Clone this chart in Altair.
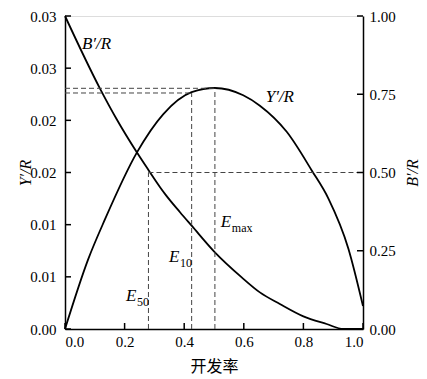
import json
import altair as alt
import pandas as pd

# ---- data ----
yr_x = [0.0, 0.078, 0.134, 0.241, 0.330, 0.425, 0.503, 0.598, 0.654, 0.744, 0.828, 0.884, 0.951, 1.0]
yr_v = [0.0, 0.0067, 0.0105, 0.0169, 0.0206, 0.0227, 0.0231, 0.0224, 0.0214, 0.0189, 0.0152, 0.0125, 0.0077, 0.0022]

br_x = [0.0, 0.117, 0.173, 0.241, 0.280, 0.319, 0.336, 0.386, 0.425, 0.503, 0.593, 0.654, 0.721, 0.800, 0.878, 0.934, 1.0]
br_v = [1.0, 0.769, 0.671, 0.5645, 0.508, 0.453, 0.431, 0.373, 0.330, 0.245, 0.165, 0.117, 0.080, 0.0405, 0.016, 0.0, 0.0]

# reference (dashed) lines, in left-axis units
e_names = ["Emax", "E10", "E50"]
e_x = [0.503, 0.425, 0.280]
e_top = [0.02307, 0.02262, 0.015]
# horizontal dashed segments: (x start, x end, y)
h_x1 = [0.0, 0.0, 0.280]
h_x2 = [0.503, 0.425, 1.0]
h_y = [0.02307, 0.02262, 0.015]

# annotation labels
lab_main = ["E", "E", "E"]
lab_sub = ["max", "10", "50"]
lab_x = [0.523, 0.349, 0.205]
lab_y = [0.00975, 0.00639, 0.00271]

curve_lab = ["B′/R", "Y′/R"]
curve_lab_x = [0.106, 0.721]
curve_lab_y = [0.0273, 0.0222]

x_ticks = [0.0, 0.2, 0.4, 0.6, 0.8, 1.0]
left_ticks = [0.0, 0.005, 0.01, 0.015, 0.02, 0.025, 0.03]
left_tick_labels = ["0.00", "0.01", "0.01", "0.02", "0.02", "0.03", "0.03"]
right_ticks = [0.0, 0.25, 0.5, 0.75, 1.0]

W, H = 298, 313
SERIF = "Liberation Serif"
CJK = "Noto Sans CJK SC"

xscale = alt.Scale(domain=[0, 1], nice=False, zero=False)
lscale = alt.Scale(domain=[0, 0.03], nice=False, zero=False)
rscale = alt.Scale(domain=[0, 1], nice=False, zero=False)

yr_df = pd.DataFrame({"x": yr_x, "v": yr_v})
br_df = pd.DataFrame({"x": br_x, "v": br_v})
vdf = pd.DataFrame({"name": e_names, "x": e_x, "y0": [0.0] * 3, "y1": e_top})
hdf = pd.DataFrame({"x1": h_x1, "x2": h_x2, "y": h_y})
ldf = pd.DataFrame({"m": lab_main, "s": lab_sub, "x": lab_x, "y": lab_y})
cdf = pd.DataFrame({"t": curve_lab, "x": curve_lab_x, "y": curve_lab_y})

x_axis = alt.Axis(values=x_ticks, format=".1f", title="开发率", ticks=False, grid=False,
                  labelPadding=5, labelFont=SERIF, labelFontSize=15, labelColor="black",
                  titleFont=CJK, titleFontSize=16, titleFontWeight="normal", titleColor="black",
                  titlePadding=9, domainColor="black", domainWidth=1.5)

lab_expr = json.dumps(left_tick_labels) + "[round(datum.value*200)]"
left_axis = alt.Axis(values=left_ticks, labelExpr=lab_expr, title="Y′/R", ticks=False, grid=False,
                     orient="left", labelPadding=9, labelFont=SERIF, labelFontSize=15, labelColor="black",
                     titleFont=SERIF, titleFontSize=16, titleFontStyle="italic", titleFontWeight="normal",
                     titleColor="black", titleBaseline="middle", titleAngle=270, titleX=-40,
                     domainColor="black", domainWidth=1.5)
right_axis = alt.Axis(values=right_ticks, format=".2f", title="B′/R", ticks=False, grid=False,
                      orient="right", labelPadding=6, labelFont=SERIF, labelFontSize=15, labelColor="black",
                      titleFont=SERIF, titleFontSize=16, titleFontStyle="italic", titleFontWeight="normal",
                      titleColor="black", titleBaseline="middle", titleAngle=270, titleX=49,
                      domainColor="black", domainWidth=1.5)


def X0(f="x"):
    return alt.X(f"{f}:Q", scale=xscale, axis=x_axis)


yr_line = alt.Chart(yr_df).mark_line(color="black", strokeWidth=1.8, interpolate="monotone").encode(
    x=X0(),
    y=alt.Y("v:Q", scale=lscale, axis=left_axis),
)
br_line = alt.Chart(br_df).mark_line(color="black", strokeWidth=1.8, interpolate="monotone").encode(
    x=X0(),
    y=alt.Y("v:Q", scale=rscale, axis=right_axis),
)
vrules = alt.Chart(vdf).mark_rule(color="#444", strokeWidth=1, strokeDash=[5, 3]).encode(
    x=X0(),
    y=alt.Y("y0:Q", scale=lscale, axis=None),
    y2="y1:Q",
)
hrules = alt.Chart(hdf).mark_rule(color="#444", strokeWidth=1, strokeDash=[5, 3]).encode(
    x=X0("x1"),
    x2="x2:Q",
    y=alt.Y("y:Q", scale=lscale, axis=None),
)
xt = alt.Chart(pd.DataFrame({"x": x_ticks})).mark_rule(color="black", strokeWidth=1.5).encode(
    x=X0(), y=alt.value(H), y2=alt.value(H - 6))
lt = alt.Chart(pd.DataFrame({"v": left_ticks})).mark_rule(color="black", strokeWidth=1.5).encode(
    y=alt.Y("v:Q", scale=lscale, axis=None), x=alt.value(0), x2=alt.value(6))
rt = alt.Chart(pd.DataFrame({"v": right_ticks})).mark_rule(color="black", strokeWidth=1.5).encode(
    y=alt.Y("v:Q", scale=rscale, axis=None), x=alt.value(W), x2=alt.value(W - 6))

e_main = alt.Chart(ldf).mark_text(font=SERIF, fontSize=17, fontStyle="italic", align="left",
                                  baseline="alphabetic", color="black").encode(
    x=X0(), y=alt.Y("y:Q", scale=lscale, axis=None), text="m:N")
e_sub = alt.Chart(ldf).mark_text(font=SERIF, fontSize=12, align="left", baseline="alphabetic",
                                 dx=11, dy=5, color="black").encode(
    x=X0(), y=alt.Y("y:Q", scale=lscale, axis=None), text="s:N")
c_lab = alt.Chart(cdf).mark_text(font=SERIF, fontSize=17, fontStyle="italic", align="center",
                                 baseline="middle", color="black").encode(
    x=X0(), y=alt.Y("y:Q", scale=lscale, axis=None), text="t:N")

chart = alt.layer(yr_line, br_line, vrules, hrules, xt, lt, rt, e_main, e_sub, c_lab).resolve_scale(
    y="independent"
).properties(
    width=W, height=H,
    autosize=alt.AutoSizeParams(type="none"),
    padding={"left": 57, "top": 8, "right": 56, "bottom": 52},
).configure_view(stroke=None).configure(background="white")

chart.save("out.html", embed_options={"renderer": "svg", "actions": False})
